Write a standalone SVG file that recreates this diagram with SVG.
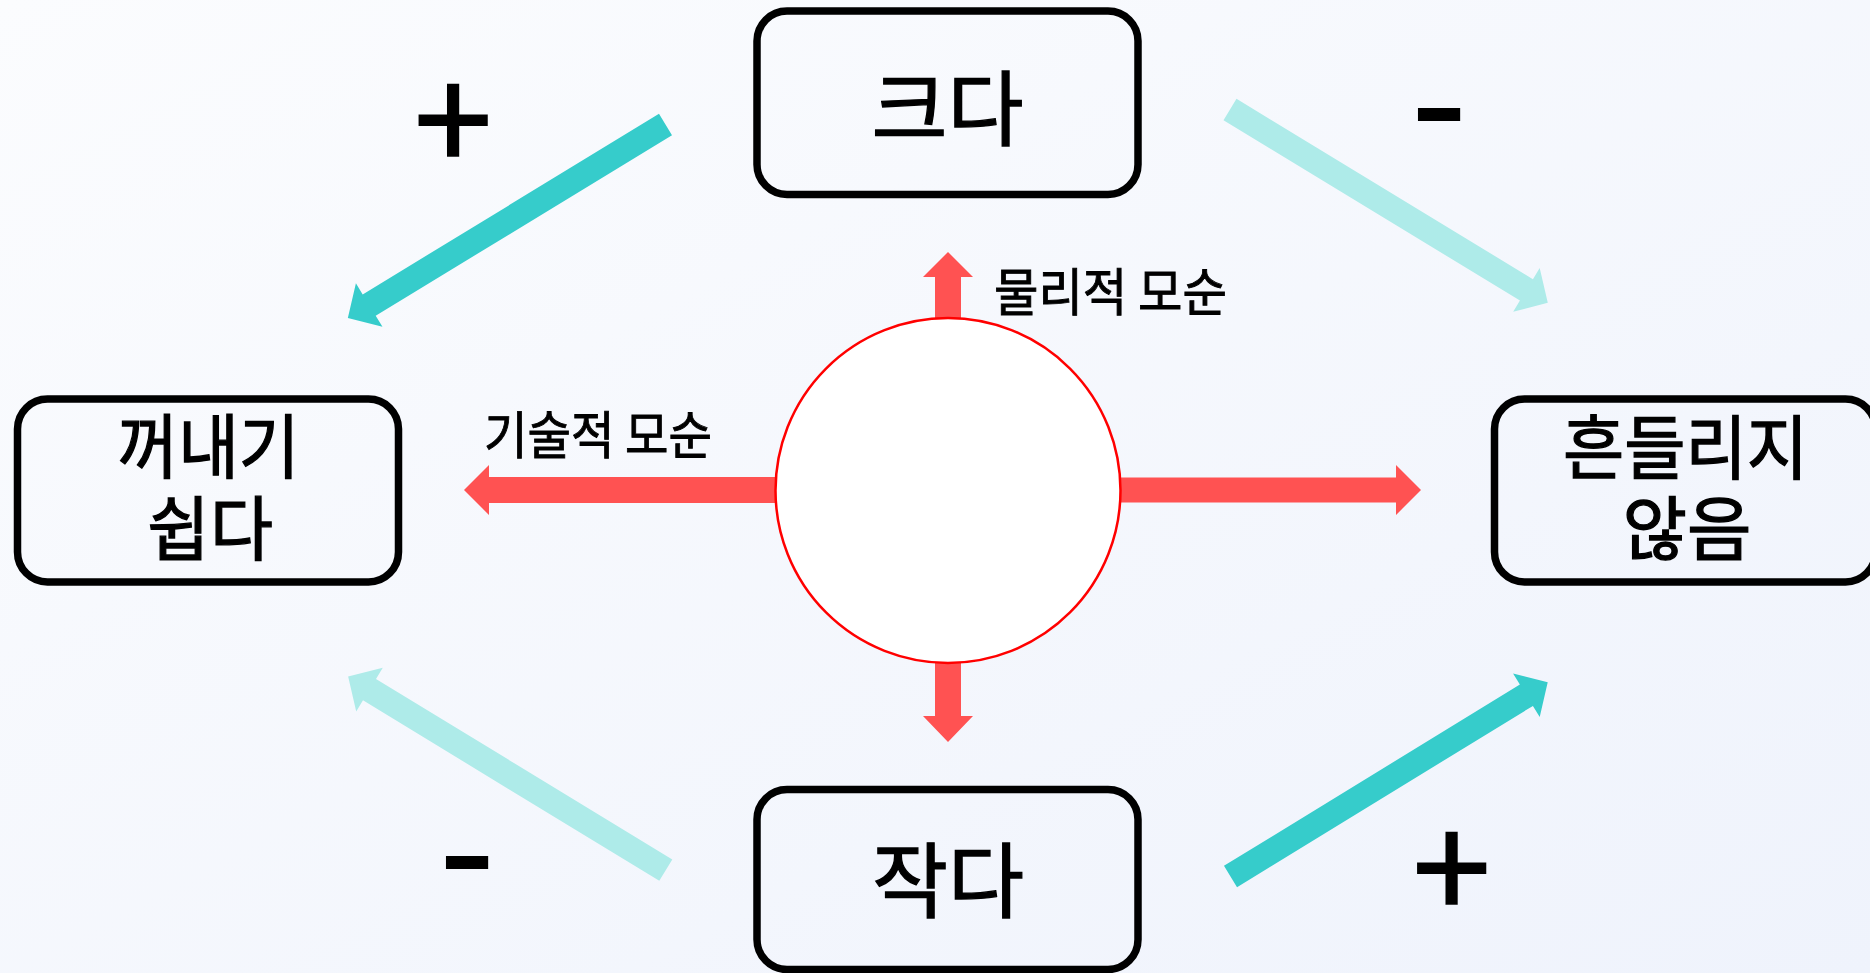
<svg xmlns="http://www.w3.org/2000/svg" width="1870" height="973" viewBox="0 0 1870 973">
<defs>
<linearGradient id="bg" x1="0" y1="0" x2="1" y2="1">
<stop offset="0" stop-color="#FBFCFE"/>
<stop offset="1" stop-color="#EFF3FC"/>
</linearGradient>
<path id="tealArrow" d="M0,-12.5 L347,-12.5 L347,-25.5 L372,0 L347,25.5 L347,12.5 L0,12.5 Z"/>
</defs>
<style>
.box{fill:none;stroke:#000;stroke-width:7.5}
.t{font-family:"Noto Sans CJK KR","Noto Sans",sans-serif;fill:#000;stroke:#000;stroke-width:1.3}
.title{font-size:82px;text-anchor:middle}
.node{font-size:70px;text-anchor:middle}
.lbl{font-size:51px;stroke-width:0.9}
.sign{font-family:"Noto Sans CJK KR","Noto Sans",sans-serif;fill:#000;stroke:#000;stroke-width:2;text-anchor:middle}
.red{fill:#FF5252}
.teal{fill:#36CCCB}
.tealL{fill:#AEEBE9}
</style>
<rect x="0" y="0" width="1870" height="973" fill="url(#bg)"/>
<g id="connectors">
<use href="#tealArrow" class="teal" transform="translate(665.5,124.5) rotate(148.64)"/>
<use href="#tealArrow" class="tealL" transform="translate(1230,109.5) rotate(31.32)"/>
<use href="#tealArrow" class="tealL" transform="translate(665.8,870.2) rotate(211.36)"/>
<use href="#tealArrow" class="teal" transform="translate(1230.5,876.5) rotate(-31.49)"/>
<polygon class="red" points="935,330 935,277 923,277 948,252 973,277 961,277 961,330"/>
<polygon class="red" points="935,650 935,716 923,716 948,742 973,716 961,716 961,650"/>
<polygon class="red" points="790,477 489,477 489,465 464,490 489,515 489,503 790,503"/>
<polygon class="red" points="1100,477.5 1396,477.5 1396,465 1421,490 1396,515 1396,502.5 1100,502.5"/>
</g>
<g id="center">
<circle cx="948" cy="490.5" r="172.5" fill="#FFFFFF" stroke="#FF0000" stroke-width="2.5"/>
</g>
<g id="node-big">
<rect class="box" x="757" y="11" width="381" height="183.5" rx="30"/>
<text class="t title" x="947.5" y="139" textLength="152" lengthAdjust="spacingAndGlyphs">크다</text>
</g>
<g id="node-small">
<rect class="box" x="757" y="789.5" width="381" height="180" rx="30"/>
<text class="t title" x="948" y="911" textLength="152" lengthAdjust="spacingAndGlyphs">작다</text>
</g>
<g id="node-easy">
<rect class="box" x="17.5" y="399" width="381" height="183" rx="30"/>
<text class="t node" x="208.5" y="473" textLength="182" lengthAdjust="spacingAndGlyphs">꺼내기</text>
<text class="t node" x="210" y="555" textLength="126" lengthAdjust="spacingAndGlyphs">쉽다</text>
</g>
<g id="node-stable">
<rect class="box" x="1494.5" y="399" width="381" height="183" rx="30"/>
<text class="t node" x="1685.5" y="474" textLength="245" lengthAdjust="spacingAndGlyphs">흔들리지</text>
<text class="t node" x="1687" y="555" textLength="129" lengthAdjust="spacingAndGlyphs">않음</text>
</g>
<g id="labels">
<text class="t lbl" x="994" y="311" textLength="233" lengthAdjust="spacingAndGlyphs">물리적 모순</text>
<text class="t lbl" x="484" y="454" textLength="228" lengthAdjust="spacingAndGlyphs">기술적 모순</text>
<text class="sign" x="453" y="172" font-size="140">+</text>
<text class="sign" x="1439" y="158" font-size="157">-</text>
<text class="sign" x="467" y="906" font-size="157">-</text>
<text class="sign" x="1451.5" y="920" font-size="140">+</text>
</g>
</svg>
